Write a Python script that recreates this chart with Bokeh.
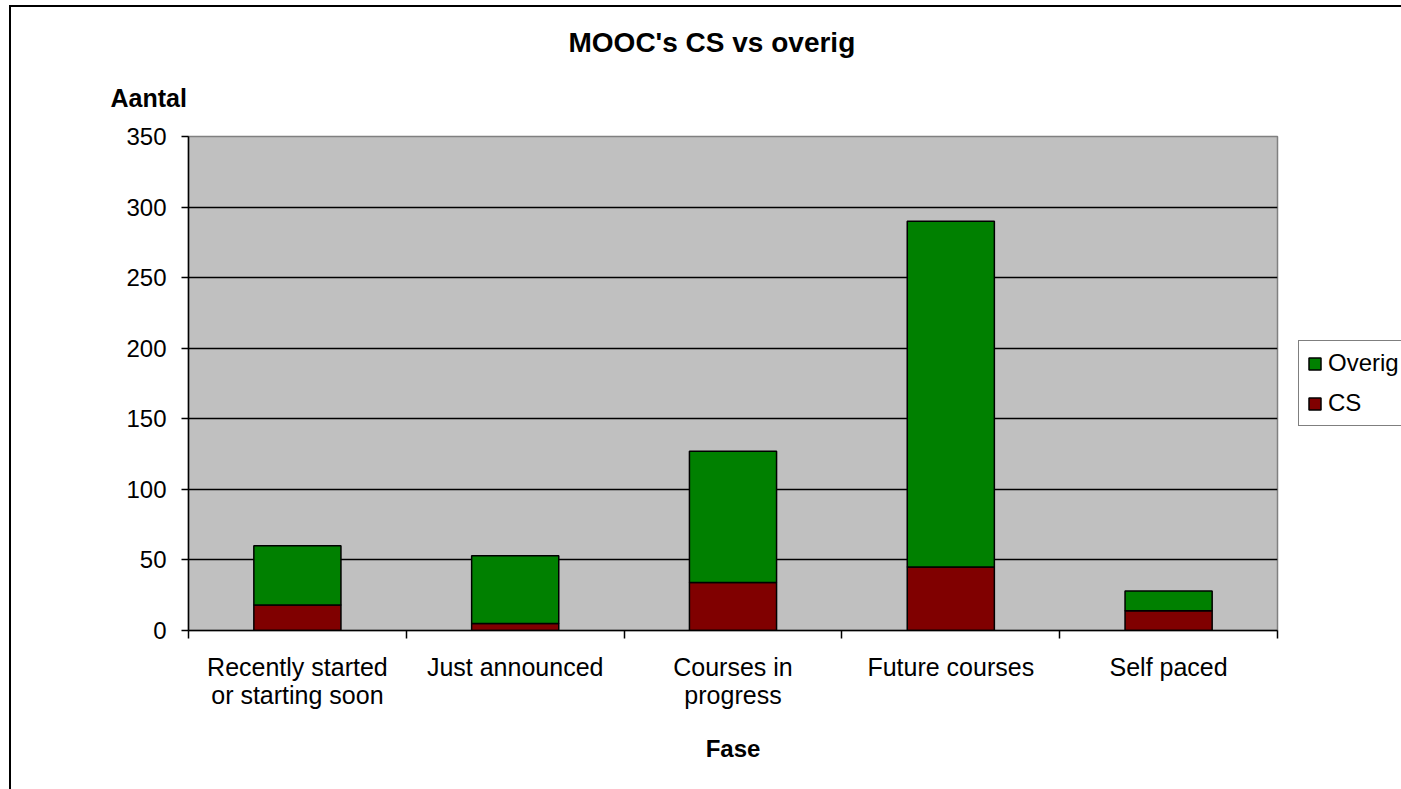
from bokeh.plotting import figure
from bokeh.models import (Range1d, LinearAxis, CategoricalAxis, FixedTicker, Title,
                          Legend, LegendItem, FactorRange, ColumnDataSource)
from bokeh.embed import file_html
from bokeh.resources import INLINE

# ---- data ----
categories = ["Recently started\nor starting soon", "Just announced",
              "Courses in\nprogress", "Future courses", "Self paced"]
cs_values = [18, 5, 34, 45, 14]
overig_values = [42, 48, 93, 245, 14]
y_ticks = [0, 50, 100, 150, 200, 250, 300, 350]
series_names = ["CS", "Overig"]
series_colors = ["#800000", "#008000"]

FONT = "Liberation Sans"

source = ColumnDataSource(dict(cat=categories, CS=cs_values, Overig=overig_values))

p = figure(x_range=FactorRange(factors=categories), y_range=Range1d(0, 350),
           frame_width=1089, frame_height=494, output_backend="svg", toolbar_location=None,
           x_axis_location=None, title_location=None,
           min_border_left=177, min_border_right=124,
           min_border_top=129, min_border_bottom=159)
p.styles = {"border-left": "2px solid black", "border-top": "2px solid black",
            "margin-left": "9px", "margin-top": "5px"}

p.background_fill_color = "#C0C0C0"
p.border_fill_color = "white"
p.outline_line_color = "#808080"
p.outline_line_width = 1.5

# y axis
p.yaxis.ticker = FixedTicker(ticks=y_ticks)
p.yaxis.major_tick_out = 7
p.yaxis.major_tick_in = 0
p.yaxis.minor_tick_line_color = None
p.yaxis.axis_line_color = "black"
p.yaxis.axis_line_width = 1.5
p.yaxis.major_tick_line_width = 1.5
p.yaxis.major_label_text_font = FONT
p.yaxis.major_label_text_font_size = "24px"
p.yaxis.major_label_text_color = "black"
p.yaxis.major_label_standoff = 15

p.ygrid.ticker = FixedTicker(ticks=y_ticks)
p.ygrid.grid_line_color = "black"
p.ygrid.grid_line_width = 1.5
p.xgrid.visible = False

# tick marks on the category boundaries (synthetic coordinates of the factor range)
edge_axis = LinearAxis(ticker=FixedTicker(ticks=[], minor_ticks=list(range(len(categories) + 1))),
                       minor_tick_out=8, minor_tick_in=0, minor_tick_line_width=1.5,
                       minor_tick_line_color="black", major_tick_line_color=None,
                       axis_line_color="black", axis_line_width=1.5,
                       major_label_standoff=0)
p.add_layout(edge_axis, "below")

cat_axis = CategoricalAxis(axis_line_color=None, major_tick_line_color=None,
                           major_label_text_font=FONT, major_label_text_font_size="25px",
                           major_label_text_color="black", major_label_standoff=8,
                           major_label_text_line_height=1.0,
                           axis_label="Fase", axis_label_text_font=FONT,
                           axis_label_text_font_size="24px", axis_label_text_font_style="bold",
                           axis_label_text_color="black", axis_label_standoff=23)
p.add_layout(cat_axis, "below")

renderers = p.vbar_stack(series_names, x="cat", width=0.4, color=series_colors,
                         line_color="black", line_width=1.5, source=source)

legend = Legend(items=[LegendItem(label="Overig", renderers=[renderers[1]]),
                       LegendItem(label="CS", renderers=[renderers[0]])],
                location="left")
legend.label_text_font = FONT
legend.label_text_font_size = "24px"
legend.label_text_color = "black"
legend.glyph_width = 15
legend.glyph_height = 15
legend.spacing = 12
legend.padding = 8
legend.margin = 21
legend.label_standoff = 6
legend.border_line_color = "black"
legend.border_line_width = 1.5
legend.background_fill_color = "white"
legend.background_fill_alpha = 1
p.add_layout(legend, "right")

ylab = Title(text="Aantal", align="left", offset=-78, standoff=49,
             text_font=FONT, text_font_size="25px", text_font_style="bold",
             text_color="black")
p.add_layout(ylab, "above")

main_title = Title(text="MOOC's CS vs overig", align="left", offset=380, standoff=0,
                   text_font=FONT, text_font_size="28px", text_font_style="bold",
                   text_color="black")
p.add_layout(main_title, "above")

open("out.html", "w").write(file_html(p, INLINE))
